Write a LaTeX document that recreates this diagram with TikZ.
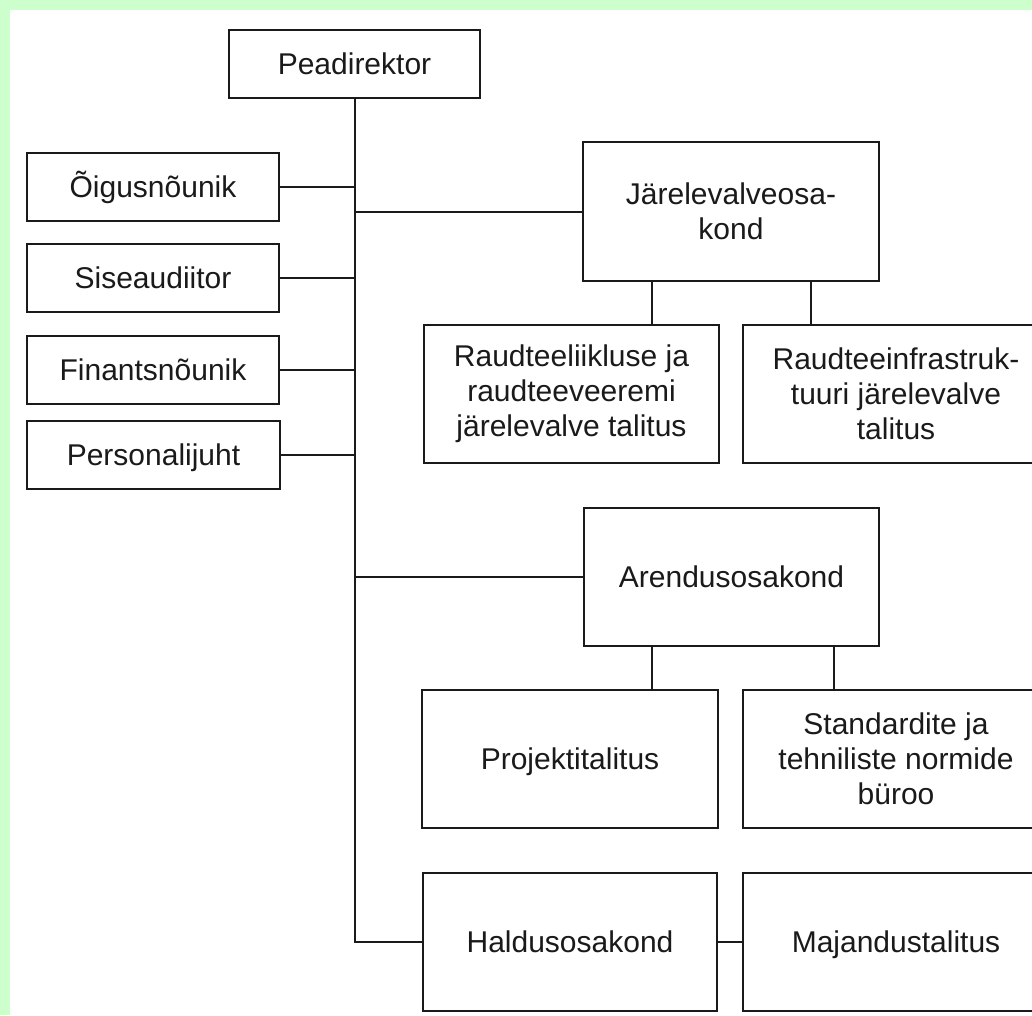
\documentclass[tikz,border=0pt]{standalone}
\usepackage{fontspec}
\setmainfont{Liberation Sans}
\definecolor{bggreen}{HTML}{CCFFCC}
\definecolor{ink}{HTML}{1A1A1A}
\newcommand{\capline}[1]{\raisebox{0pt}[\fontcharht\font`H][0pt]{#1}}
\begin{document}
\begin{tikzpicture}[x=1pt,y=-1pt,
  box/.style={draw=ink, line width=2pt, fill=white, inner sep=0pt, align=center,
    font=\fontsize{30}{35}\selectfont, text=ink},
  link/.style={draw=ink, line width=2pt}]
\useasboundingbox (0,0) rectangle (1032,1015);
\clip (0,0) rectangle (1032,1015);
\fill[bggreen] (0,0) rectangle (1032,1015);
\fill[white] (10,10) rectangle (1040,1020);
% nodes
\node[box, minimum width=251pt, minimum height=68pt] (pea) at (354.5,64) {\capline{Peadirektor}};
\node[box, minimum width=252pt, minimum height=68pt] (oig) at (153,187) {\capline{Õigusnõunik}};
\node[box, minimum width=252pt, minimum height=68pt] (sise) at (153,278) {\capline{Siseaudiitor}};
\node[box, minimum width=252pt, minimum height=68pt] (fin) at (153,370) {\capline{Finantsnõunik}};
\node[box, minimum width=253pt, minimum height=68pt] (pers) at (153.5,455) {\capline{Personalijuht}};
\node[box, minimum width=296pt, minimum height=139pt] (jar) at (731,211.5) {Järelevalveosa-\\kond};
\node[box, minimum width=295pt, minimum height=138pt] (rl) at (571.5,394) {Raudteeliikluse ja\\raudteeveeremi\\järelevalve talitus};
\node[box, minimum width=306pt, minimum height=138pt] (ri) at (896,394) {Raudteeinfrastruk-\\tuuri järelevalve\\talitus};
\node[box, minimum width=295pt, minimum height=138pt] (are) at (731.5,577) {\capline{Arendusosakond}};
\node[box, minimum width=296pt, minimum height=138pt] (proj) at (570,759) {\capline{Projektitalitus}};
\node[box, minimum width=306pt, minimum height=138pt] (std) at (896,759) {Standardite ja\\tehniliste normide\\büroo};
\node[box, minimum width=294pt, minimum height=138pt] (hal) at (570,942) {\capline{Haldusosakond}};
\node[box, minimum width=306pt, minimum height=138pt] (maj) at (896,942) {\capline{Majandustalitus}};
% connectors
\draw[link] (pea.south) |- (hal.west);
\draw[link] (oig.east) -- (oig.east -| pea.south);
\draw[link] (sise.east) -- (sise.east -| pea.south);
\draw[link] (fin.east) -- (fin.east -| pea.south);
\draw[link] (pers.east) -- (pers.east -| pea.south);
\draw[link] (jar.west) -- (jar.west -| pea.south);
\draw[link] (are.west) -- (are.west -| pea.south);
\draw[link] (jar.south -| 652,0) -- (rl.north -| 652,0);
\draw[link] (jar.south -| 811,0) -- (ri.north -| 811,0);
\draw[link] (are.south -| 652,0) -- (proj.north -| 652,0);
\draw[link] (are.south -| 834,0) -- (std.north -| 834,0);
\draw[link] (hal.east) -- (maj.west);
\end{tikzpicture}
\end{document}
